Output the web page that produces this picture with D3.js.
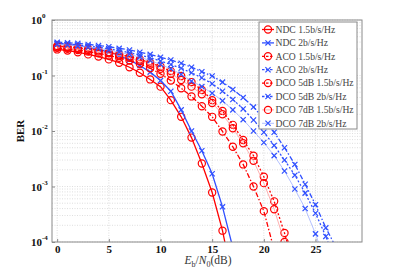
<!DOCTYPE html>
<meta charset="utf-8">
<title>BER</title>
<style>
  body { margin: 0; background: #fff; }
  svg text { font-family: "Liberation Serif", "DejaVu Serif", serif; }
</style>
<div id="viz"></div>
<script src="https://cdnjs.cloudflare.com/ajax/libs/d3/7.8.5/d3.min.js"></script>
<script>

var width = 399;
var height = 273;

// Eb/N0 in dB, one point per dB starting at 0
var xTicks = [0, 5, 10, 15, 20, 25];
var yTicks = [1e-4, 1e-3, 1e-2, 1e-1, 1];
var yExp = ["-4", "-3", "-2", "-1", "0"];

var ndc15 = [.295, .282, .263, .240, .219, .195, .170, .141, .112, .085, .063, .036, .018, .0076, .0026, 7.8e-4, 1.6e-4, 2e-5];
var ndc2 = [.380, .363, .347, .324, .295, .263, .229, .191, .151, .115, .081, .052, .024, .010, .0044, .0017, 4.3e-4, 7.9e-5];
var aco15 = [.316, .302, .288, .269, .251, .229, .209, .186, .162, .135, .107, .081, .059, .042, .028, .018, .0098, .0052, .0025, .001, 3.6e-4, 7.2e-5];
var aco2 = [.398, .389, .380, .363, .347, .331, .309, .288, .263, .240, .214, .191, .166, .141, .117, .098, .076, .056, .040, .027, .0166, .0095, .005, .0025, .0011, 4.7e-4, 1.8e-4, 7.9e-5];
var dco5_15 = [.339, .331, .316, .302, .282, .263, .240, .219, .195, .170, .145, .120, .098, .076, .055, .036, .023, .0129, .0069, .0036, .0015, 5.4e-4, 1.45e-4, 3.2e-5];
var dco5_2 = [.380, .372, .355, .339, .324, .302, .282, .257, .234, .209, .182, .158, .135, .112, .091, .071, .052, .037, .025, .0158, .0095, .0055, .003, .0016, 7.6e-4, 3.3e-4, 1.26e-4, 4e-5];
var dco7_15 = [.324, .316, .302, .288, .269, .251, .229, .209, .182, .158, .132, .107, .083, .063, .046, .032, .020, .0112, .006, .0029, .00115, 3.9e-4, 1e-4];
var dco7_2 = [.363, .355, .339, .324, .309, .288, .263, .240, .214, .186, .158, .132, .105, .079, .063, .048, .035, .024, .016, .010, .0062, .0036, .0019, 9e-4, 4e-4, 1.4e-4, 4e-5];

var series = [
  {name: "NDC 1.5b/s/Hz", y: ndc15, color: "#ff0000", dash: null, marker: "o", lw: 1.3},
  {name: "NDC 2b/s/Hz", y: ndc2, color: "#3050ff", dash: null, marker: "x", lw: 1.3},
  {name: "ACO 1.5b/s/Hz", y: aco15, color: "#ff0000", dash: "5,2,1.5,2", marker: "o", lw: 1.3},
  {name: "ACO 2b/s/Hz", y: aco2, color: "#3050ff", dash: "5,2,1.5,2", marker: "x", lw: 1.3},
  {name: "DCO 5dB 1.5b/s/Hz", y: dco5_15, color: "#ff0000", dash: "2,2", marker: "o", lw: 1.3},
  {name: "DCO 5dB 2b/s/Hz", y: dco5_2, color: "#3050ff", dash: "2,2", marker: "x", lw: 1.3},
  {name: "DCO 7dB 1.5b/s/Hz", y: dco7_15, color: "#ff9a9a", dash: null, marker: "o", lw: 0.8, mcolor: "#ff0000"},
  {name: "DCO 7dB 2b/s/Hz", y: dco7_2, color: "#9fb0ff", dash: null, marker: "x", lw: 0.8, mcolor: "#3050ff"}
];

var margin = {left: 52, top: 20, right: 37, bottom: 31};
var pw = width - margin.left - margin.right;
var ph = height - margin.top - margin.bottom;

var x = d3.scaleLinear().domain([-0.5, 29.5]).range([0, pw]);
var y = d3.scaleLog().domain([1e-4, 1]).range([ph, 0]);

var svg = d3.select("#viz").append("svg")
  .attr("width", width)
  .attr("height", height);

svg.append("defs").append("clipPath").attr("id", "clip")
  .append("rect").attr("width", pw).attr("height", ph);

var g = svg.append("g").attr("transform", "translate(" + margin.left + "," + margin.top + ")");

// grid
var minorY = [];
for (var e = -4; e < 0; e++) {
  for (var k = 1; k < 10; k++) minorY.push(k * Math.pow(10, e));
}
minorY.push(1);
g.append("g").selectAll("line").data(minorY).enter().append("line")
  .attr("x1", 0).attr("x2", pw)
  .attr("y1", d => y(d)).attr("y2", d => y(d))
  .attr("stroke", "#c8c8c8").attr("stroke-width", 0.6).attr("stroke-dasharray", "1,1.5");
g.append("g").selectAll("line").data(xTicks).enter().append("line")
  .attr("x1", d => x(d)).attr("x2", d => x(d))
  .attr("y1", 0).attr("y2", ph)
  .attr("stroke", "#c8c8c8").attr("stroke-width", 0.6).attr("stroke-dasharray", "1,1.5");

// curves
var plot = g.append("g").attr("clip-path", "url(#clip)");
var line = d3.line().x((d, i) => x(i)).y(d => y(d));

series.forEach(function(s) {
  plot.append("path")
    .attr("d", line(s.y))
    .attr("fill", "none")
    .attr("stroke", s.color)
    .attr("stroke-width", s.lw)
    .attr("stroke-dasharray", s.dash);
  var pts = s.y.map((v, i) => [i, v]).filter(p => p[1] >= 1e-4);
  drawMarkers(plot, pts.map(p => [x(p[0]), y(p[1])]), s.marker, s.mcolor || s.color);
});

function drawMarkers(sel, pts, type, color) {
  if (type == "o") {
    sel.append("g").selectAll("circle").data(pts).enter().append("circle")
      .attr("cx", d => d[0]).attr("cy", d => d[1]).attr("r", 3.6)
      .attr("fill", "none").attr("stroke", color).attr("stroke-width", 1.2);
  } else {
    var r = 2.6;
    sel.append("g").selectAll("path").data(pts).enter().append("path")
      .attr("d", d => "M" + (d[0] - r) + "," + (d[1] - r) + "L" + (d[0] + r) + "," + (d[1] + r) +
        "M" + (d[0] - r) + "," + (d[1] + r) + "L" + (d[0] + r) + "," + (d[1] - r))
      .attr("stroke", color).attr("stroke-width", 1.2);
  }
}

// axes box
g.append("rect").attr("width", pw).attr("height", ph)
  .attr("fill", "none").attr("stroke", "#8a8a8a").attr("stroke-width", 1);

var ax = g.append("g").attr("transform", "translate(0," + ph + ")")
  .call(d3.axisBottom(x).tickValues(xTicks).tickSize(-3).tickPadding(3).tickFormat(d3.format("d")));
ax.select(".domain").remove();
ax.selectAll("line").attr("stroke", "#8a8a8a");
ax.selectAll("text").attr("font-size", 11).attr("font-weight", "bold").attr("fill", "#111")
  .style("font-family", "'Liberation Serif', serif");

var ay = g.append("g").call(d3.axisLeft(y).tickValues(yTicks).tickSize(-3).tickFormat(""));
ay.select(".domain").remove();
ay.selectAll("line").attr("stroke", "#8a8a8a");
var ylab = g.append("g").selectAll("text").data(yTicks).enter().append("text")
  .attr("x", -10).attr("y", d => y(d) + 4)
  .attr("text-anchor", "end")
  .attr("font-size", 11).attr("font-weight", "bold").attr("fill", "#111")
  .text("10");
g.append("g").selectAll("text").data(yTicks).enter().append("text")
  .attr("x", -10).attr("y", d => y(d) - 2)
  .attr("font-size", 7).attr("font-weight", "bold").attr("fill", "#111")
  .text((d, i) => yExp[i]);

// axis labels
svg.append("text")
  .attr("transform", "translate(24," + (margin.top + ph / 2) + ") rotate(-90)")
  .attr("text-anchor", "middle")
  .attr("font-size", 11).attr("font-weight", "bold").attr("fill", "#111")
  .text("BER");

var xl = svg.append("text")
  .attr("x", margin.left + pw / 2 + 1).attr("y", 264)
  .attr("text-anchor", "middle")
  .attr("font-size", 11.5).attr("fill", "#333");
xl.append("tspan").attr("font-style", "italic").text("E");
xl.append("tspan").attr("font-size", 8).attr("dy", 2.5).text("b");
xl.append("tspan").attr("dy", -2.5).text("/");
xl.append("tspan").attr("font-style", "italic").text("N");
xl.append("tspan").attr("font-size", 8).attr("dy", 2.5).text("0");
xl.append("tspan").attr("dy", -2.5).text("(dB)");

// legend
var lg = svg.append("g").attr("transform", "translate(259,22)");
lg.append("rect").attr("width", 98).attr("height", 107)
  .attr("fill", "#fff").attr("stroke", "#8a8a8a").attr("stroke-width", 1);
series.forEach(function(s, i) {
  var yy = 7.5 + i * 13.4;
  var row = lg.append("g");
  if (s.lw > 1) {
    row.append("line").attr("x1", 3).attr("x2", 15).attr("y1", yy).attr("y2", yy)
      .attr("stroke", s.color).attr("stroke-width", s.lw)
      .attr("stroke-dasharray", s.dash ? "2.5,1.5" : null);
  } else {
    row.append("line").attr("x1", 3).attr("x2", 15).attr("y1", yy).attr("y2", yy)
      .attr("stroke", s.color).attr("stroke-width", s.lw);
  }
  drawMarkers(row, [[9, yy]], s.marker, s.mcolor || s.color);
  row.append("text").attr("x", 16.5).attr("y", yy + 3.2)
    .attr("font-size", 9.6).attr("fill", "#444")
    .text(s.name);
});

</script>
